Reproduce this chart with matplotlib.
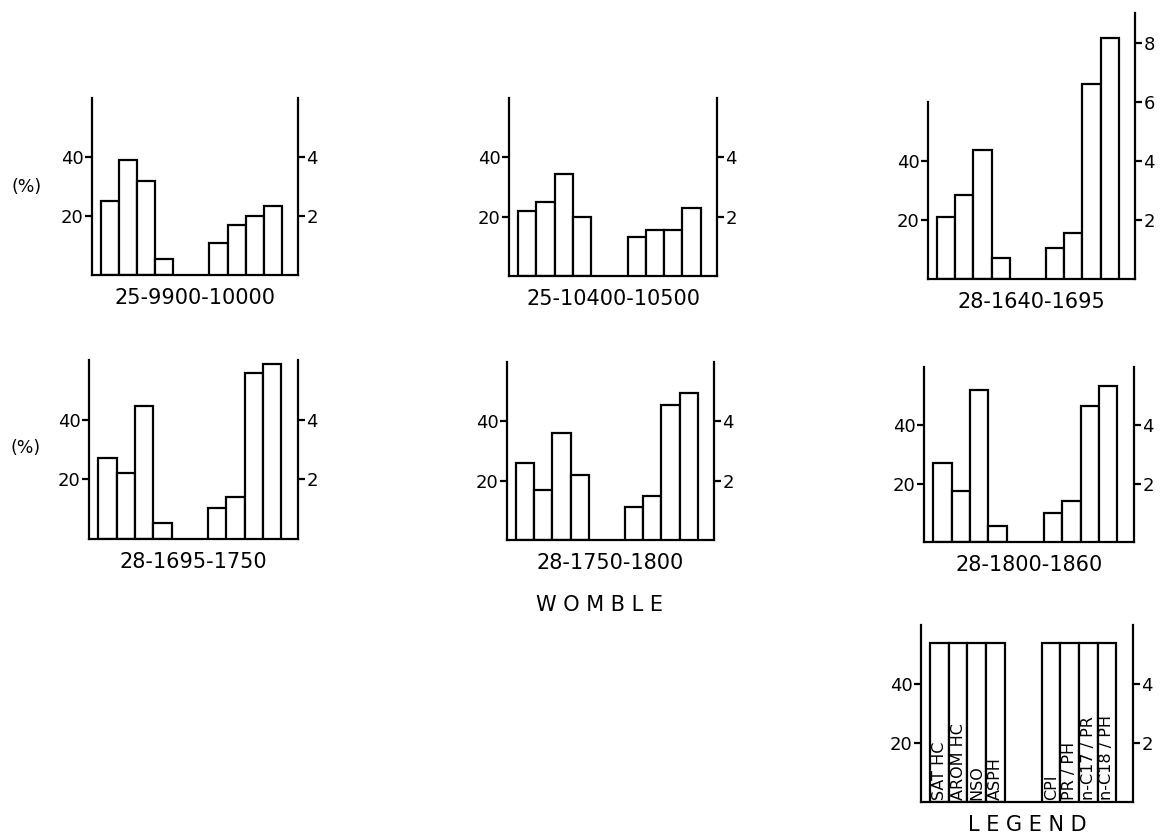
import numpy as np
import matplotlib.pyplot as plt

plt.rcParams["font.family"] = ["DejaVu Sans"]

# core samples (depth intervals)
samples = ["25-9900-10000", "25-10400-10500", "28-1640-1695",
           "28-1695-1750", "28-1750-1800", "28-1800-1860"]

# left scale: bulk composition (%)
sat_hc = [25, 22, 21, 27, 26, 27]
arom_hc = [39, 25, 28.5, 22, 17, 17.5]
nso = [32, 34.5, 43.5, 44.5, 36, 52]
asph = [5.5, 20, 7, 5.5, 22, 5.5]

# right scale: ratios
cpi = [1.1, 1.3, 1.05, 1.05, 1.1, 1.0]
pr_ph = [1.7, 1.55, 1.55, 1.4, 1.5, 1.4]
c17_pr = [2.0, 1.55, 6.6, 5.55, 4.55, 4.65]
c18_ph = [2.35, 2.3, 8.15, 5.85, 4.95, 5.35]

pct_labels = ["SAT HC", "AROM HC", "NSO", "ASPH"]
ratio_labels = ["CPI", "PR / PH", "n-C17 / PR", "n-C18 / PH"]
legend_pct = [54, 54, 54, 54]
legend_ratio = [5.4, 5.4, 5.4, 5.4]

W, H = 1164, 834
fig = plt.figure(figsize=(W / 100, H / 100), dpi=100)

LW = 1.6
x_pct = np.arange(4)
x_ratio = np.arange(6, 10)

# panel boxes in pixels: left, right, baseline, top, ymax (left scale)
boxes = [
    (92, 298, 275, 98, 60),
    (509, 717, 276, 98, 60),
    (928, 1135, 279, 13, 90),
    (89, 298, 539, 360, 60),
    (507, 714, 540, 362, 60),
    (924, 1134, 542, 367, 60),
    (921, 1133, 802, 625, 60),
]


def panel(box, pct, ratio, caption, pct_names=None, ratio_names=None):
    l, r, b, t, ymax = box
    ax = fig.add_axes([l / W, 1 - b / H, (r - l) / W, (b - t) / H])
    ax.set_facecolor("none")
    ax.set_xlim(-0.5, 10.9)
    ax.set_ylim(0, ymax)
    ax.bar(x_pct, pct, width=1, align="edge", facecolor="white",
           edgecolor="black", linewidth=LW, zorder=2)
    ax.spines[["top", "right"]].set_visible(False)
    ax.spines[["left", "bottom"]].set_linewidth(LW)
    ax.spines["left"].set_bounds(0, 60)
    ax.set_yticks([20, 40])
    ax.set_xticks([])
    ax.tick_params(axis="y", direction="out", length=5, width=LW,
                   pad=1, labelsize=13)

    ax2 = ax.twinx()
    ax2.set_ylim(0, ymax / 10)
    ax2.bar(x_ratio, ratio, width=1, align="edge", facecolor="white",
            edgecolor="black", linewidth=LW, zorder=2)
    ax2.spines[["top", "left", "bottom"]].set_visible(False)
    ax2.spines["right"].set_linewidth(LW)
    ax2.set_yticks([2, 4, 6, 8] if ymax > 60 else [2, 4])
    ax2.tick_params(axis="y", direction="out", length=5, width=LW,
                    pad=1, labelsize=13)

    if pct_names:
        for xi, name in zip(x_pct, pct_names):
            ax.text(xi + 0.5, 0.8, name, rotation=90, ha="center",
                    va="bottom", fontsize=11.5)
        for xi, name in zip(x_ratio, ratio_names):
            ax2.text(xi + 0.5, 0.08, name, rotation=90, ha="center",
                     va="bottom", fontsize=11.5)

    fig.text((l + r) / 2 / W, 1 - (b + 23) / H, caption,
             ha="center", va="center", fontsize=15)
    return ax


for i, name in enumerate(samples):
    panel(boxes[i],
          [sat_hc[i], arom_hc[i], nso[i], asph[i]],
          [cpi[i], pr_ph[i], c17_pr[i], c18_ph[i]],
          name)

panel(boxes[6], legend_pct, legend_ratio, "L E G E N D",
      pct_labels, ratio_labels)

fig.text(27 / W, 1 - 187 / H, "(%)", ha="center", va="center", fontsize=12.5)
fig.text(26 / W, 1 - 448 / H, "(%)", ha="center", va="center", fontsize=12.5)
fig.text(600 / W, 1 - 605 / H, "W O M B L E", ha="center", va="center",
         fontsize=15)

fig.savefig("out.png", dpi=100, facecolor="white")
